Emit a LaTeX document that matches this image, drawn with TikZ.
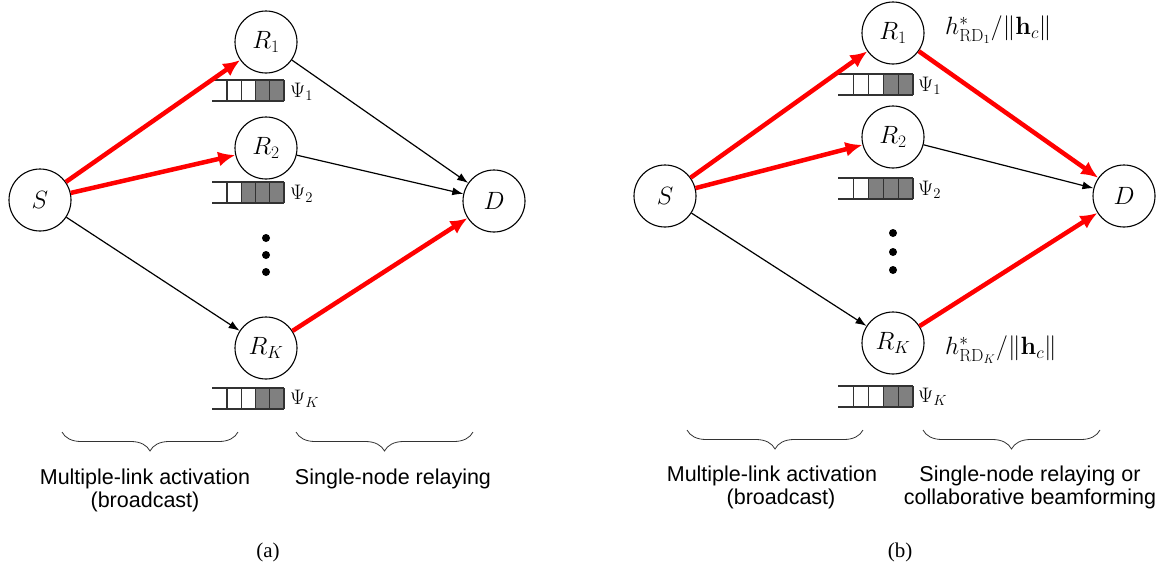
\RequirePackage{fix-cm}
\documentclass[tikz,border=0pt]{standalone}
\usepackage[no-math]{fontspec}
\setmainfont{Liberation Sans}
\newfontfamily\capfont{Liberation Serif}
\usetikzlibrary{arrows.meta,decorations.pathreplacing}

\definecolor{cellfill}{RGB}{128,128,128}
\definecolor{cellline}{RGB}{50,50,50}

\tikzset{
  relay/.style={circle,draw,line width=1.1pt,minimum size=62pt,inner sep=0pt,
    font=\fontsize{25}{25}\selectfont},
  plainlink/.style={line width=1.2pt,-{Latex[length=11pt,width=8pt]}},
  activelink/.style={red,line width=4.5pt,-{Latex[length=17pt,width=15pt]}},
  qlabel/.style={anchor=base west,inner sep=0pt,font=\fontsize{21}{21}\selectfont},
  gainlabel/.style={anchor=west,inner sep=0pt,font=\fontsize{25}{25}\selectfont},
  phase/.style={decorate,decoration={brace,mirror,amplitude=19pt},line width=0.8pt,black!80},
  caption/.style={anchor=base,inner sep=0pt,font=\fontsize{21.5}{21.5}\selectfont},
  panel/.style={anchor=base,inner sep=0pt,font=\fontsize{21}{21}\selectfont\capfont},
  pics/buffer/.style={code={
    \fill[cellfill] ({72-14.25*#1},0) rectangle (72,21);
    \draw[cellline,line width=1.1pt] (0,0) -- (72,0) (0,21) -- (72,21);
    \foreach \k in {0,...,4} \draw[cellline,line width=1.1pt] ({15+14.25*\k},0) -- ++(0,21);
  }}
}

\begin{document}
\begin{tikzpicture}[x=1pt,y=-1pt]
\useasboundingbox (0,0) rectangle (1167,563);

% ---------- (a) single-node relaying ----------
\node[relay] (aS)  at (40,200)  {$S$};
\node[relay] (aR1) at (266,42)  {$R_1$};
\node[relay] (aR2) at (266,148) {$R_2$};
\node[relay] (aRK) at (266,348) {$R_K$};
\node[relay] (aD)  at (494,201) {$D$};

\pic at (212,80)  {buffer=2};
\pic at (212,182) {buffer=3};
\pic at (212,388) {buffer=2};
\node[qlabel] (aQ1) at (290,97)  {$\Psi_1$};
\node[qlabel] (aQ2) at (290,199) {$\Psi_2$};
\node[qlabel] (aQK) at (290,404) {$\Psi_K$};

\foreach \y in {238,255,272} \fill (266,\y) circle (4);

\draw[activelink] (aS) -- (aR1);
\draw[activelink] (aS) -- (aR2);
\draw[plainlink]  (aS) -- (aRK);
\draw[plainlink]  (aR1) -- (aD);
\draw[plainlink]  (aR2) -- (aD);
\draw[activelink] (aRK) -- (aD);

\draw[phase] (62,432) -- (238,432);
\draw[phase] (296,432) -- (473,432);
\node[caption] (aT1) at (145,484) {Multiple-link activation};
\node[caption] (aT2) at (145,507) {(broadcast)};
\node[caption] (aT3) at (393,484) {Single-node relaying};
\node[panel] (aCap) at (268,557) {(a)};

% ---------- (b) relaying or collaborative beamforming ----------
\node[relay] (bS)  at (665,196)  {$S$};
\node[relay] (bR1) at (893,33)   {$R_1$};
\node[relay] (bR2) at (893,137)  {$R_2$};
\node[relay] (bRK) at (893,343)  {$R_K$};
\node[relay] (bD)  at (1124,196) {$D$};

\pic[xscale=1.0417] at (838,74)  {buffer=2};
\pic[xscale=1.0417] at (838,178) {buffer=3};
\pic[xscale=1.0417] at (838,386) {buffer=2};
\node[qlabel] (bQ1) at (918,91)  {$\Psi_1$};
\node[qlabel] (bQ2) at (918,195) {$\Psi_2$};
\node[qlabel] (bQK) at (918,402) {$\Psi_K$};

\foreach \y in {233,252,270} \fill (893,\y) circle (4);

\draw[activelink] (bS) -- (bR1);
\draw[activelink] (bS) -- (bR2);
\draw[plainlink]  (bS) -- (bRK);
\draw[activelink] (bR1) -- (bD);
\draw[plainlink]  (bR2) -- (bD);
\draw[activelink] (bRK) -- (bD);

\node[gainlabel] (bG1) at (945,30)  {$h^*_{\mathrm{RD}_1}/\|\mathbf{h}_c\|$};
\node[gainlabel] (bGK) at (945,350) {$h^*_{\mathrm{RD}_K}/\|\mathbf{h}_c\|$};

\draw[phase] (687,430) -- (863,430);
\draw[phase] (923,430) -- (1100,430);
\node[caption] (bT1) at (772,481)  {Multiple-link activation};
\node[caption] (bT2) at (781,504)  {(broadcast)};
\node[caption] (bT3) at (1030,481) {Single-node relaying or};
\node[caption] (bT4) at (1030,504) {collaborative beamforming};
\node[panel] (bCap) at (900,557) {(b)};
\end{tikzpicture}
\end{document}
